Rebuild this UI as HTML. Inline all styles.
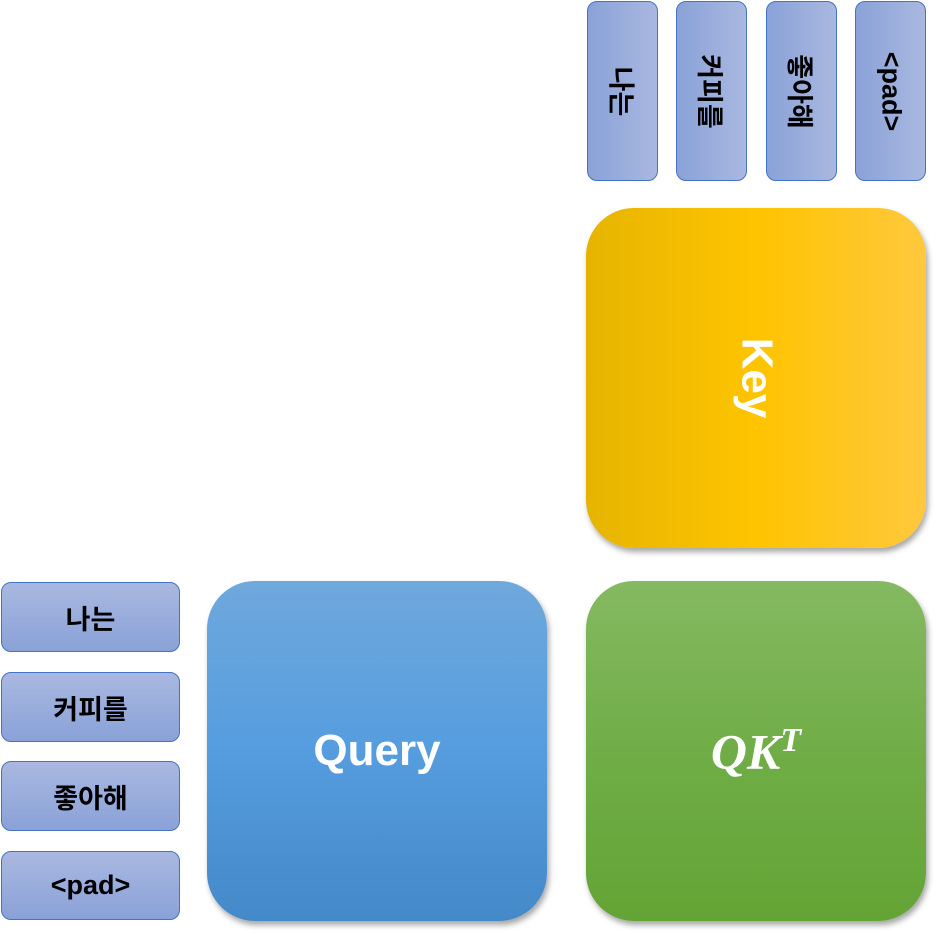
<!DOCTYPE html>
<html><head><meta charset="utf-8"><style>
body{margin:0;width:936px;height:934px;background:#fff;position:relative;overflow:hidden;font-family:"Liberation Sans","Noto Sans CJK KR",sans-serif}
.s{position:absolute;box-sizing:border-box;border:1px solid #4472c4;border-radius:10px;display:flex;align-items:center;justify-content:center;font-weight:bold;color:#000;font-size:27px}
.h{background:linear-gradient(#a9b8e0,#8aa2d8)}
.v{background:linear-gradient(90deg,#8aa2d8,#a9b8e0)}
.v span{transform:rotate(90deg);white-space:nowrap;display:block}
.b{position:absolute;width:340px;height:340px;border-radius:48px;box-shadow:2px 4px 6px rgba(0,0,0,.35);display:flex;align-items:center;justify-content:center;color:#fff;font-weight:bold;font-size:44px}
</style></head><body>
<div class="s v" style="left:587px;top:1px;width:71px;height:180px"><span>나는</span></div>
<div class="s v" style="left:676px;top:1px;width:71px;height:180px"><span>커피를</span></div>
<div class="s v" style="left:766px;top:1px;width:71px;height:180px"><span>좋아해</span></div>
<div class="s v" style="left:855px;top:1px;width:71px;height:180px"><span>&lt;pad&gt;</span></div>
<div class="s h" style="left:1px;top:582px;width:179px;height:70px">나는</div>
<div class="s h" style="left:1px;top:672px;width:179px;height:70px">커피를</div>
<div class="s h" style="left:1px;top:761px;width:179px;height:70px">좋아해</div>
<div class="s h" style="left:1px;top:851px;width:179px;height:69px">&lt;pad&gt;</div>
<div class="b" style="left:586px;top:208px;background:linear-gradient(90deg,#e6b400,#fec400 50%,#ffc83d)"><span style="transform:rotate(90deg);display:block">Key</span></div>
<div class="b" style="left:207px;top:581px;background:linear-gradient(#6fa8dc,#559ddf 50%,#4489c8)">Query</div>
<div class="b" style="left:586px;top:581px;background:linear-gradient(#85b962,#70ad47 50%,#64a435)"><span style="font-family:'Liberation Serif',serif;font-style:italic;font-size:50px">QK<sup style="font-size:34px">T</sup></span></div>
</body></html>
